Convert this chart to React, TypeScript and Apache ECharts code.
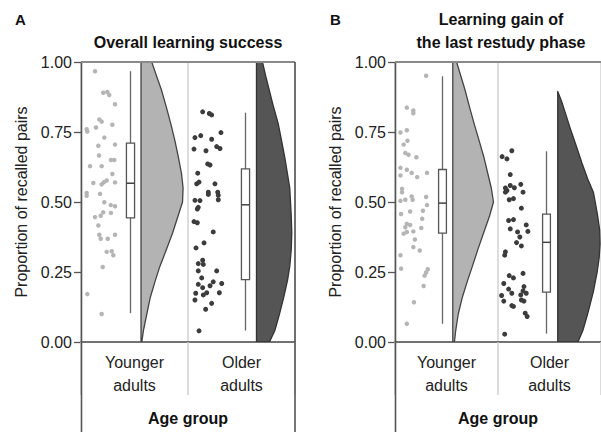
import React, { useEffect, useRef } from "react";
import * as echarts from "echarts";

const FONT = "'Liberation Sans', Arial, Helvetica, sans-serif";

const groups = ["Younger\nadults", "Older\nadults"];
const panelLetters = ["A", "B"];
const panelTitles = ["Overall learning success", "Learning gain of\nthe last restudy phase"];
const yAxisName = "Proportion of recalled pairs";
const xAxisName = "Age group";

// box statistics: [low whisker, q1, median, q3, high whisker]
const boxA_young = [0.103, 0.443, 0.567, 0.71, 0.967];
const boxA_old = [0.041, 0.223, 0.49, 0.618, 0.819];
const boxB_young = [0.065, 0.389, 0.496, 0.616, 0.949];
const boxB_old = [0.03, 0.178, 0.356, 0.457, 0.681];

// half-violin density profiles (level on y, width in x-axis units)
const violinLevels = [0, 0.04, 0.1, 0.16, 0.22, 0.27, 0.33, 0.39, 0.45, 0.5, 0.55, 0.6, 0.66, 0.72, 0.78, 0.84, 0.9, 0.95, 1.0];
const violinA_young = [0.007, 0.022, 0.054, 0.087, 0.134, 0.176, 0.237, 0.296, 0.346, 0.388, 0.393, 0.379, 0.349, 0.316, 0.278, 0.236, 0.191, 0.145, 0.1];
const violinA_old = [0.121, 0.171, 0.215, 0.255, 0.29, 0.311, 0.325, 0.33, 0.325, 0.318, 0.311, 0.29, 0.264, 0.234, 0.203, 0.159, 0.119, 0.086, 0.056];
const violinB_young = [0.016, 0.028, 0.053, 0.093, 0.144, 0.19, 0.243, 0.3, 0.357, 0.395, 0.374, 0.341, 0.302, 0.255, 0.207, 0.162, 0.119, 0.078, 0.037];
const violinB_oldLevels = [0, 0.04, 0.1, 0.18, 0.25, 0.3, 0.35, 0.4, 0.45, 0.5, 0.535, 0.583, 0.64, 0.7, 0.76, 0.82, 0.86, 0.895];
const violinB_old = [0.196, 0.243, 0.29, 0.346, 0.383, 0.402, 0.411, 0.407, 0.388, 0.364, 0.346, 0.29, 0.234, 0.18, 0.124, 0.072, 0.037, 0];

// raw participant values and their horizontal jitter
const dotsA_young = [0.967, 0.89, 0.893, 0.882, 0.849, 0.795, 0.787, 0.76, 0.752, 0.766, 0.776, 0.73, 0.705, 0.701, 0.666, 0.65, 0.65, 0.628, 0.628, 0.6, 0.568, 0.563, 0.571, 0.577, 0.57, 0.532, 0.522, 0.529, 0.499, 0.489, 0.485, 0.463, 0.451, 0.446, 0.461, 0.416, 0.383, 0.369, 0.369, 0.383, 0.322, 0.324, 0.31, 0.268, 0.171, 0.1];
const jitterA_young = [0.131, 0.208, 0.246, 0.264, 0.318, 0.171, 0.193, 0.053, 0.059, 0.14, 0.293, 0.218, 0.318, 0.162, 0.168, 0.28, 0.311, 0.084, 0.193, 0.293, 0.115, 0.193, 0.215, 0.24, 0.318, 0.053, 0.053, 0.178, 0.218, 0.278, 0.318, 0.208, 0.184, 0.131, 0.28, 0.162, 0.171, 0.184, 0.25, 0.318, 0.24, 0.287, 0.302, 0.203, 0.059, 0.193];
const dotsA_old = [0.822, 0.816, 0.811, 0.748, 0.73, 0.737, 0.724, 0.689, 0.683, 0.698, 0.691, 0.636, 0.632, 0.603, 0.565, 0.571, 0.565, 0.535, 0.527, 0.535, 0.524, 0.506, 0.505, 0.481, 0.475, 0.508, 0.43, 0.426, 0.393, 0.354, 0.336, 0.292, 0.28, 0.277, 0.254, 0.254, 0.229, 0.206, 0.194, 0.176, 0.168, 0.201, 0.215, 0.209, 0.176, 0.174, 0.15, 0.138, 0.117, 0.04];
const jitterA_old = [0.137, 0.199, 0.221, 0.308, 0.065, 0.119, 0.221, 0.056, 0.168, 0.268, 0.299, 0.184, 0.206, 0.091, 0.081, 0.103, 0.252, 0.19, 0.19, 0.278, 0.283, 0.065, 0.112, 0.096, 0.087, 0.283, 0.056, 0.087, 0.236, 0.15, 0.075, 0.137, 0.096, 0.143, 0.096, 0.268, 0.128, 0.096, 0.137, 0.175, 0.143, 0.206, 0.236, 0.315, 0.293, 0.072, 0.065, 0.221, 0.165, 0.103];
const dotsB_young = [0.951, 0.837, 0.827, 0.817, 0.756, 0.748, 0.719, 0.705, 0.675, 0.669, 0.66, 0.622, 0.615, 0.604, 0.589, 0.604, 0.595, 0.547, 0.535, 0.52, 0.508, 0.518, 0.504, 0.508, 0.489, 0.457, 0.466, 0.469, 0.44, 0.422, 0.418, 0.41, 0.387, 0.393, 0.395, 0.407, 0.366, 0.339, 0.327, 0.31, 0.262, 0.26, 0.248, 0.237, 0.2, 0.142, 0.065];
const jitterB_young = [0.302, 0.115, 0.178, 0.178, 0.115, 0.053, 0.121, 0.084, 0.1, 0.131, 0.208, 0.053, 0.115, 0.162, 0.215, 0.311, 0.053, 0.068, 0.068, 0.162, 0.171, 0.302, 0.053, 0.1, 0.311, 0.059, 0.147, 0.271, 0.264, 0.115, 0.147, 0.1, 0.084, 0.115, 0.178, 0.255, 0.193, 0.178, 0.24, 0.053, 0.059, 0.318, 0.302, 0.287, 0.278, 0.184, 0.115];
const dotsB_old = [0.662, 0.654, 0.683, 0.598, 0.55, 0.541, 0.535, 0.559, 0.551, 0.563, 0.535, 0.508, 0.512, 0.478, 0.434, 0.437, 0.404, 0.418, 0.395, 0.393, 0.375, 0.355, 0.343, 0.322, 0.31, 0.237, 0.229, 0.245, 0.209, 0.189, 0.166, 0.146, 0.174, 0.198, 0.182, 0.174, 0.168, 0.15, 0.146, 0.13, 0.127, 0.103, 0.091, 0.028];
const jitterB_old = [0.04, 0.087, 0.134, 0.119, 0.072, 0.087, 0.072, 0.119, 0.159, 0.221, 0.243, 0.109, 0.15, 0.227, 0.103, 0.15, 0.119, 0.274, 0.29, 0.19, 0.212, 0.18, 0.227, 0.072, 0.065, 0.109, 0.15, 0.243, 0.056, 0.103, 0.035, 0.056, 0.134, 0.252, 0.243, 0.274, 0.221, 0.227, 0.252, 0.134, 0.15, 0.264, 0.283, 0.065];

const panels = [
  {
    left: 81,
    data: [
      { dots: dotsA_young, jitter: jitterA_young, box: boxA_young, levels: violinLevels, widths: violinA_young },
      { dots: dotsA_old, jitter: jitterA_old, box: boxA_old, levels: violinLevels, widths: violinA_old },
    ],
    pos: [{ box: 0.461, violin: 0.561 }, { box: 0.535, violin: 0.64 }],
  },
  {
    left: 395,
    data: [
      { dots: dotsB_young, jitter: jitterB_young, box: boxB_young, levels: violinLevels, widths: violinB_young },
      { dots: dotsB_old, jitter: jitterB_old, box: boxB_old, levels: violinB_oldLevels, widths: violinB_old },
    ],
    pos: [{ box: 0.458, violin: 0.561 }, { box: 0.47, violin: 0.58 }],
  },
];

const STYLE = [
  { dot: "#b5b5b5", fill: "#b3b3b3", stroke: "#444444" },
  { dot: "#3c3c3c", fill: "#555555", stroke: "#333333" },
];

const GRID_TOP = 62;
const GRID_H = 282;
const GRID_W = 214;
const BOX_HALF = 0.038;

function buildOption() {
  const grid: any[] = [];
  const xAxis: any[] = [];
  const yAxis: any[] = [];
  const series: any[] = [];
  const graphic: any[] = [];

  panels.forEach((panel, p) => {
    grid.push({ left: panel.left, top: GRID_TOP, width: GRID_W, height: GRID_H });
    xAxis.push({
      type: "value", gridIndex: p, min: 0, max: 2, position: "bottom",
      axisLine: { show: true, lineStyle: { color: "#444", width: 1.5 } },
      axisTick: { show: false }, axisLabel: { show: false }, splitLine: { show: false },
    });
    xAxis.push({
      type: "category", gridIndex: p, data: groups, position: "bottom", boundaryGap: true,
      axisLine: { show: false },
      axisTick: { show: true, length: 53, lineStyle: { color: "#cfcfcf", width: 1.5 } },
      axisLabel: { fontFamily: FONT, fontSize: 16, lineHeight: 23, color: "#222", margin: 9 },
      splitLine: { show: true, lineStyle: { color: "#d2d2d2", width: 1.5 } },
      name: xAxisName, nameLocation: "middle", nameGap: 67,
      nameTextStyle: { fontFamily: FONT, fontSize: 16, fontWeight: "bold", color: "#111", lineHeight: 18 },
    });
    yAxis.push({
      type: "value", gridIndex: p, min: 0, max: 1, interval: 0.25,
      axisLine: { show: false },
      axisTick: { show: true, length: 7, lineStyle: { color: "#555", width: 1.3 } },
      axisLabel: { fontFamily: FONT, fontSize: 16, color: "#222", margin: 9, formatter: (v: number) => v.toFixed(2) },
      splitLine: { show: false },
      name: yAxisName, nameLocation: "middle", nameGap: 52,
      nameTextStyle: { fontFamily: FONT, fontSize: 16, color: "#222" },
    });

    panel.data.forEach((g, gi) => {
      const st = STYLE[gi];
      const pos = panel.pos[gi];
      // violin
      series.push({
        type: "custom", xAxisIndex: p * 2, yAxisIndex: p, clip: true, z: 2,
        data: [[gi + pos.violin, g.levels[0]]],
        renderItem: (_params: any, api: any) => {
          const base = gi + pos.violin;
          const pts: number[][] = [api.coord([base, g.levels[0]])];
          g.levels.forEach((lv, k) => pts.push(api.coord([base + g.widths[k], lv])));
          pts.push(api.coord([base, g.levels[g.levels.length - 1]]));
          return {
            type: "polygon",
            shape: { points: pts },
            style: { fill: st.fill, stroke: st.stroke, lineWidth: 1.3, lineJoin: "round" },
          };
        },
      });
      // box
      series.push({
        type: "custom", xAxisIndex: p * 2, yAxisIndex: p, z: 3,
        encode: { x: 0, y: [1, 2, 3, 4, 5] },
        data: [[gi + pos.box, ...g.box]],
        renderItem: (_params: any, api: any) => {
          const x = api.value(0);
          const lo = api.coord([x, api.value(1)]);
          const q1 = api.coord([x, api.value(2)]);
          const md = api.coord([x, api.value(3)]);
          const q3 = api.coord([x, api.value(4)]);
          const hi = api.coord([x, api.value(5)]);
          const half = api.size([BOX_HALF, 0])[0];
          const cx = Math.round(x === undefined ? 0 : lo[0]) + 0.5;
          const lineStyle = { stroke: "#666", lineWidth: 1.3 };
          return {
            type: "group",
            children: [
              { type: "line", shape: { x1: cx, y1: hi[1], x2: cx, y2: q3[1] }, style: lineStyle },
              { type: "line", shape: { x1: cx, y1: q1[1], x2: cx, y2: lo[1] }, style: lineStyle },
              { type: "rect", shape: { x: cx - half, y: q3[1], width: half * 2, height: q1[1] - q3[1] },
                style: { fill: "#fff", stroke: "#555", lineWidth: 1.3 } },
              { type: "line", shape: { x1: cx - half, y1: md[1], x2: cx + half, y2: md[1] },
                style: { stroke: "#444", lineWidth: 1.5 } },
            ],
          };
        },
      });
      // dots
      series.push({
        type: "scatter", xAxisIndex: p * 2, yAxisIndex: p, z: 4,
        symbolSize: gi === 0 ? 4.5 : 5,
        itemStyle: { color: st.dot, opacity: 1 },
        data: g.dots.map((v, k) => [gi + g.jitter[k], v]),
      });
    });

    // frame & panel texts
    const L = panel.left;
    const R = Math.min(L + GRID_W, 601);
    const frame = { stroke: "#555", lineWidth: 1.6 };
    graphic.push({ type: "line", z: 100, shape: { x1: L + 0.5, y1: GRID_TOP, x2: L + 0.5, y2: 432 }, style: frame });
    graphic.push({ type: "line", z: 100, shape: { x1: L, y1: GRID_TOP, x2: R, y2: GRID_TOP }, style: { stroke: "#8a8a8a", lineWidth: 1.8 } });
    if (L + GRID_W <= 601) {
      graphic.push({ type: "line", z: 100, shape: { x1: L + GRID_W, y1: GRID_TOP, x2: L + GRID_W, y2: 432 }, style: frame });
    }
    graphic.push({
      type: "text", z: 100, x: p === 0 ? 20.5 : 335.5, y: 19,
      style: { text: panelLetters[p], font: `bold 15px ${FONT}`, fill: "#111", align: "center", verticalAlign: "middle" },
    });
    graphic.push({
      type: "text", z: 100, x: L + GRID_W / 2 + (p === 0 ? 0 : -1), y: 53.5,
      style: { text: panelTitles[p], font: `bold 16px ${FONT}`, fill: "#111", align: "center", verticalAlign: "bottom", lineHeight: 23 },
    });
  });

  return {
    animation: false,
    backgroundColor: "#ffffff",
    grid, xAxis, yAxis, series, graphic,
  };
}

export default function App() {
  const ref = useRef<HTMLDivElement>(null);
  useEffect(() => {
    document.body.style.margin = "0";
    if (!ref.current) return;
    const chart = echarts.init(ref.current, null, { renderer: "svg" });
    chart.setOption(buildOption() as any);
    return () => chart.dispose();
  }, []);
  return <div ref={ref} style={{ width: 601, height: 432 }} />;
}
